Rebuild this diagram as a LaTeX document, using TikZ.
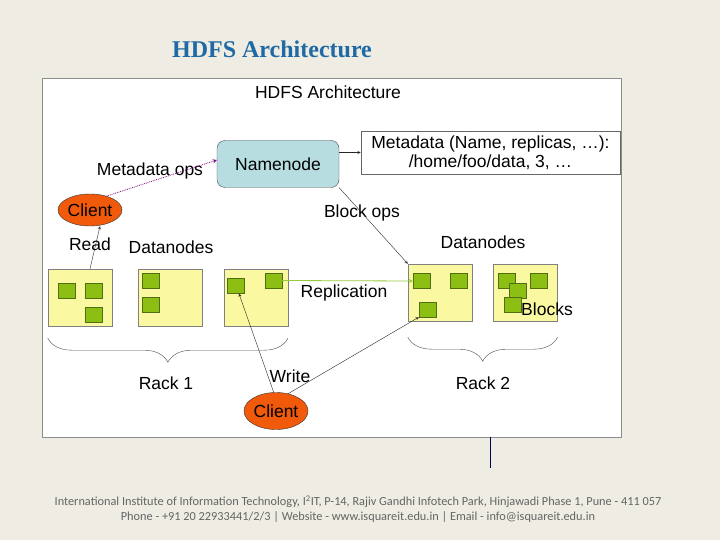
\documentclass[tikz,border=0pt]{standalone}
\usepackage{fontspec}
\setmainfont{Liberation Sans}
\newfontfamily\titlefont{Liberation Serif}
\newfontfamily\footfont{Carlito}
\usepackage{tikz}
\usetikzlibrary{shapes.geometric, arrows.meta, positioning, calc, decorations.pathreplacing}
\definecolor{slidebg}{RGB}{238,236,227}
\definecolor{titleblue}{RGB}{31,106,165}
\definecolor{namefill}{RGB}{183,221,224}
\definecolor{datafill}{RGB}{250,248,160}
\definecolor{blockfill}{RGB}{140,190,20}
\definecolor{blockdraw}{RGB}{80,110,20}
\definecolor{clientfill}{RGB}{240,90,10}
\definecolor{replgreen}{RGB}{150,200,60}
\definecolor{footgray}{RGB}{100,100,100}
\tikzstyle{arrow} = [thin, ->, >=stealth]

\begin{document}
\begin{tikzpicture}[
	x=1pt, y=-1pt,
	font=\fontsize{17.5}{19}\selectfont,
	namebox/.style={draw=black!70, fill=namefill, rounded corners=8pt, minimum width=122pt, minimum height=47pt},
	metabox/.style={draw=black!60, thick, minimum width=259pt, minimum height=43pt, align=center, inner sep=1pt},
	datanode/.style={draw=black!50, fill=datafill, minimum width=64pt, minimum height=57pt, inner sep=0pt},
	block/.style={draw=blockdraw, fill=blockfill, minimum width=17pt, minimum height=15pt, inner sep=0pt},
	client/.style={draw=black!80, fill=clientfill, ellipse, minimum width=64pt, inner sep=0pt},
	pointer/.style={arrow, black!85},
	metaops/.style={->, >=stealth, densely dotted, thick, violet},
	replication/.style={->, >=stealth, thick, replgreen},
	rack/.style={thin, black!70, decorate, decoration={brace, mirror, amplitude=24pt}}
]

% slide background and picture panel
\fill[slidebg] (0,0) rectangle (720,540);
\useasboundingbox (0,0) rectangle (720,540);
\node[font=\titlefont\bfseries\fontsize{24}{28}\selectfont, text=titleblue] (title) at (272,49) {HDFS Architecture};
\draw[black!45, fill=white] (42,78) rectangle (621,437);
\draw[black!70!blue, thick] (490,437) -- (490,468);

\node (heading) at (328,92) {HDFS Architecture};

% namenode and metadata
\node[namebox] (namenode) at (278,164) {Namenode};
\node[metabox] (meta) at (490.5,152.5) {Metadata (Name, replicas, \dots):\\/home/foo/data, 3, \dots};
\node[client, minimum height=32pt] (client1) at (90,210) {Client};

% datanodes of rack 1
\node[datanode] (dn1) at (80,297.5) {};
\node[datanode, right=26pt of dn1] (dn2) {};
\node[datanode, right=21pt of dn2] (dn3) {};
% datanodes of rack 2
\node[datanode] (dn4) at (440,292.5) {};
\node[datanode, right=21pt of dn4] (dn5) {};

% blocks
\node[block] (blk1a) at (66.5,290.5) {};
\node[block] (blk1b) at (93.5,290.5) {};
\node[block] (blk1c) at (93.5,314.5) {};
\node[block] (blk2a) at (151,281) {};
\node[block] (blk2b) at (151,305) {};
\node[block] (blk3a) at (236,286) {};
\node[block] (blk3b) at (273.5,280.5) {};
\node[block] (blk4a) at (421.5,281) {};
\node[block] (blk4b) at (459,281) {};
\node[block] (blk4c) at (427.5,309.5) {};
\node[block] (blk5a) at (506.5,281) {};
\node[block] (blk5b) at (538.5,281) {};
\node[block] (blk5c) at (517.5,290.5) {};
\node[block] (blk5d) at (512.5,305) {};

\node[client, minimum height=37pt] (client2) at (276,411) {Client};

% labels
\node (lmeta) at (150,171) {Metadata ops};
\node (lread) at (90,244) {Read};
\node (ldn1) at (171,247) {Datanodes};
\node (lblockops) at (362,213) {Block ops};
\node (ldn2) at (483,242) {Datanodes};
\node (lrepl) at (344,293) {Replication};
\node (lblocks) at (547,309) {Blocks};
\node (lwrite) at (290,376) {Write};
\node (lrack1) at (166,383) {Rack 1};
\node (lrack2) at (483,383) {Rack 2};

% connectors
\draw[metaops] (client1.40) -- ([yshift=4]namenode.west);
\draw[pointer] (namenode.east |- meta.west) -- (meta.west);
\draw[pointer] (namenode.south east) -- (dn4.north west);
\draw[pointer] ([xshift=10]dn1.north) -- ([xshift=10]client1.south);
\draw[replication] (blk3b.east) -- (blk4a.west);
\draw[pointer] (client2.97) -- ([xshift=3]blk3a.south);
\draw[pointer] (client2.55) -- (blk4c.south west);

% racks
\draw[rack] ([yshift=-12]dn1.south west) -- ([yshift=-12]dn3.south east);
\draw[rack] ([yshift=-16]dn4.south west) -- ([yshift=-16]dn5.south east);

% footer
\node[font=\footfont\fontsize{12.3}{15}\selectfont, text=footgray, align=center] (footer) at (358,509.5)
	{International Institute of Information Technology, I\textsuperscript{2}IT, P-14, Rajiv Gandhi Infotech Park, Hinjawadi Phase 1, Pune - 411 057\\
	Phone - +91 20 22933441/2/3 | Website - www.isquareit.edu.in | Email - info@isquareit.edu.in};

\end{tikzpicture}
\end{document}
